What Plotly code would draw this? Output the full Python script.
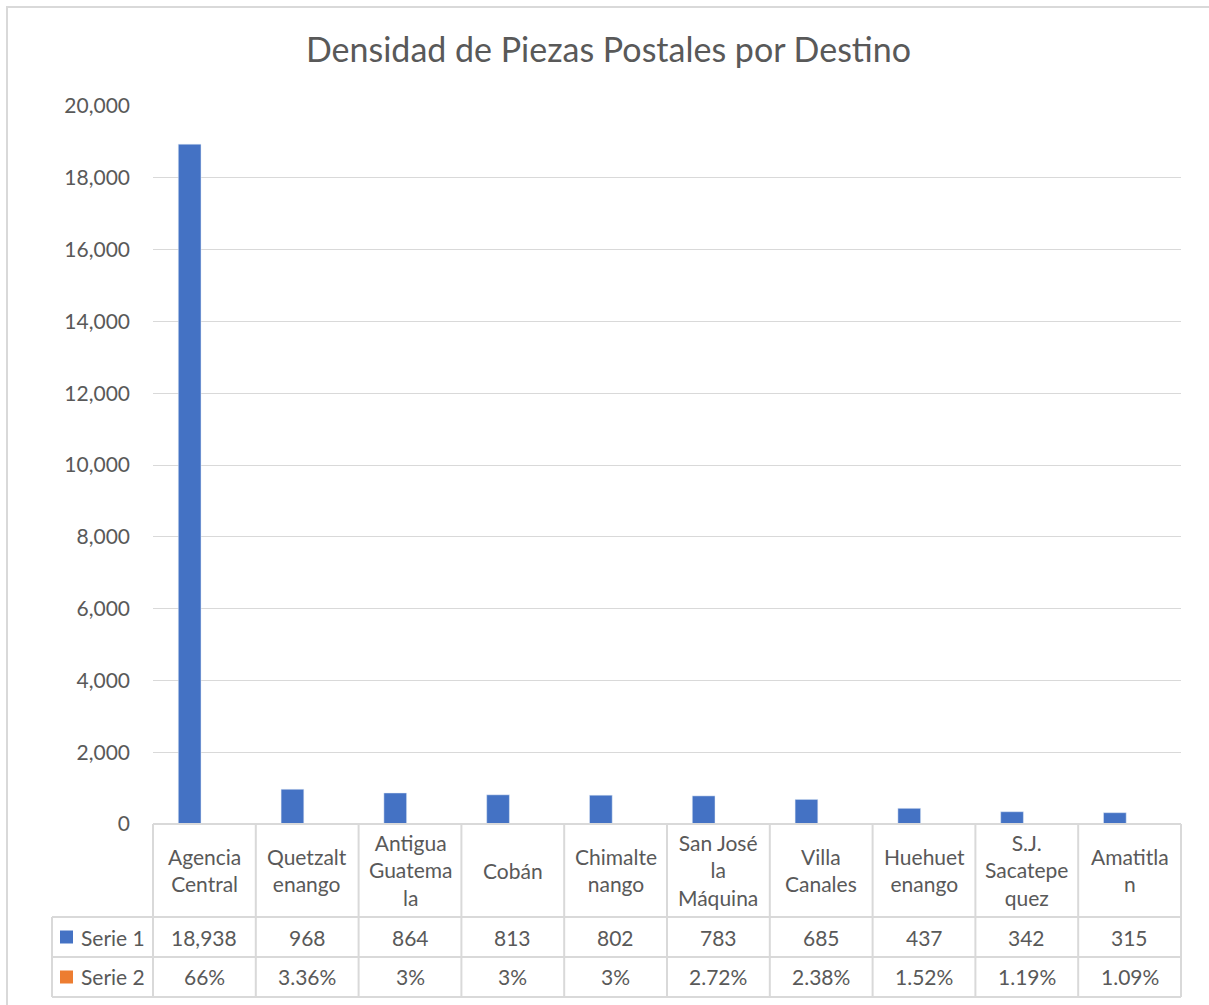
import plotly.graph_objects as go

# ---------------- data ----------------
categories = ["Agencia Central", "Quetzaltenango", "Antigua Guatemala", "Cobán",
              "Chimaltenango", "San José la Máquina", "Villa Canales",
              "Huehuetenango", "S.J. Sacatepequez", "Amatitlan"]
header_labels = ["Agencia<br>Central", "Quetzalt<br>enango", "Antigua<br>Guatema<br>la", "Cobán",
                 "Chimalte<br>nango", "San José<br>la<br>Máquina", "Villa<br>Canales",
                 "Huehuet<br>enango", "S.J.<br>Sacatepe<br>quez", "Amatitla<br>n"]
serie1 = [18938, 968, 864, 813, 802, 783, 685, 437, 342, 315]
serie2 = [0.66, 0.0336, 0.03, 0.03, 0.03, 0.0272, 0.0238, 0.0152, 0.0119, 0.0109]
series_names = ["Serie 1", "Serie 2"]
y_ticks = [0, 2000, 4000, 6000, 8000, 10000, 12000, 14000, 16000, 18000, 20000]
title_text = "Densidad de Piezas Postales por Destino"

# ---------------- style ----------------
W, H = 1209, 1005
L, R, T, B = 153, 1181, 106, 824
BLUE, ORANGE = "#4472C4", "#ED7D31"
GRID = "#D9D9D9"
TXT = "#595959"
FONT = "Lato"
FS = 21

def px_x(p):
    return (p - L) / (R - L)

def px_y(p):
    return (B - p) / (B - T)

n = len(categories)
xidx = list(range(n))

fig = go.Figure()
fig.add_trace(go.Bar(x=xidx, y=serie1, name=series_names[0], marker_color=BLUE,
                     width=0.221, offset=-0.254, showlegend=False, hoverinfo="skip"))
fig.add_trace(go.Bar(x=xidx, y=serie2, name=series_names[1], marker_color=ORANGE,
                     width=0.221, offset=-0.033, showlegend=False, hoverinfo="skip"))

shapes = []
line = dict(color=GRID, width=2)
# outer chart border
shapes.append(dict(type="rect", xref="paper", yref="paper",
                   x0=px_x(7), x1=px_x(1216), y0=px_y(7), y1=px_y(1012),
                   line=line, layer="below"))
# table rows
row_top, row1, row2, row_bot = 824, 917, 957, 997
legend_left = 52
shapes.append(dict(type="line", xref="paper", yref="paper",
                   x0=0, x1=1, y0=px_y(row_top), y1=px_y(row_top), line=line))
for ry in (row1, row2, row_bot):
    shapes.append(dict(type="line", xref="paper", yref="paper",
                       x0=px_x(legend_left), x1=1, y0=px_y(ry), y1=px_y(ry), line=line))
shapes.append(dict(type="line", xref="paper", yref="paper",
                   x0=px_x(legend_left), x1=px_x(legend_left), y0=px_y(row1), y1=px_y(row_bot), line=line))
for i in range(n + 1):
    xv = i / n
    shapes.append(dict(type="line", xref="paper", yref="paper",
                       x0=xv, x1=xv, y0=px_y(row_top), y1=px_y(row_bot), line=line))
# legend keys
for color, (ra, rb) in zip((BLUE, ORANGE), ((row1, row2), (row2, row_bot))):
    cy = (ra + rb) / 2
    shapes.append(dict(type="rect", xref="paper", yref="paper",
                       x0=px_x(60), x1=px_x(73), y0=px_y(cy - 6.5), y1=px_y(cy + 6.5),
                       fillcolor=color, line=dict(width=0)))

annotations = []
tfont = dict(family=FONT, size=FS, color=TXT)
for i, lab in enumerate(header_labels):
    annotations.append(dict(x=i, xref="x", y=px_y((row_top + row1) / 2), yref="paper",
                            text=lab, showarrow=False, font=tfont,
                            xanchor="center", yanchor="middle", align="center"))
for i, v in enumerate(serie1):
    annotations.append(dict(x=i, xref="x", y=px_y((row1 + row2) / 2), yref="paper",
                            text=f"{v:,}", showarrow=False, font=tfont,
                            xanchor="center", yanchor="middle"))
for i, v in enumerate(serie2):
    annotations.append(dict(x=i, xref="x", y=px_y((row2 + row_bot) / 2), yref="paper",
                            text=f"{v * 100:g}%", showarrow=False, font=tfont,
                            xanchor="center", yanchor="middle"))
for name, (ra, rb) in zip(series_names, ((row1, row2), (row2, row_bot))):
    annotations.append(dict(x=px_x(79), xref="paper", y=px_y((ra + rb) / 2), yref="paper",
                            text=name, showarrow=False, font=tfont,
                            xanchor="left", yanchor="middle"))

fig.update_layout(
    width=W, height=H, autosize=False,
    margin=dict(l=L, r=W - R, t=T, b=H - B, pad=0),
    paper_bgcolor="white", plot_bgcolor="white",
    title=dict(text=title_text, x=608.5 / W, xref="container", y=1 - 50 / H, yref="container",
               yanchor="middle", xanchor="center",
               font=dict(family=FONT, size=34, color=TXT)),
    font=dict(family=FONT, size=FS, color=TXT),
    barmode="group",
    shapes=shapes, annotations=annotations,
    xaxis=dict(type="linear", range=[-0.5, n - 0.5], showticklabels=False,
               showgrid=False, zeroline=False, showline=False, ticks=""),
    yaxis=dict(range=[0, 20000], tickvals=y_ticks, tickformat=",", showgrid=True,
               gridcolor=GRID, gridwidth=1, zeroline=False, showline=False, ticks="",
               ticklabelstandoff=22, tickfont=dict(family=FONT, size=FS, color=TXT)),
)

fig.write_html("out.html", config={"displayModeBar": False},
               post_script="document.body.style.margin='0';")
